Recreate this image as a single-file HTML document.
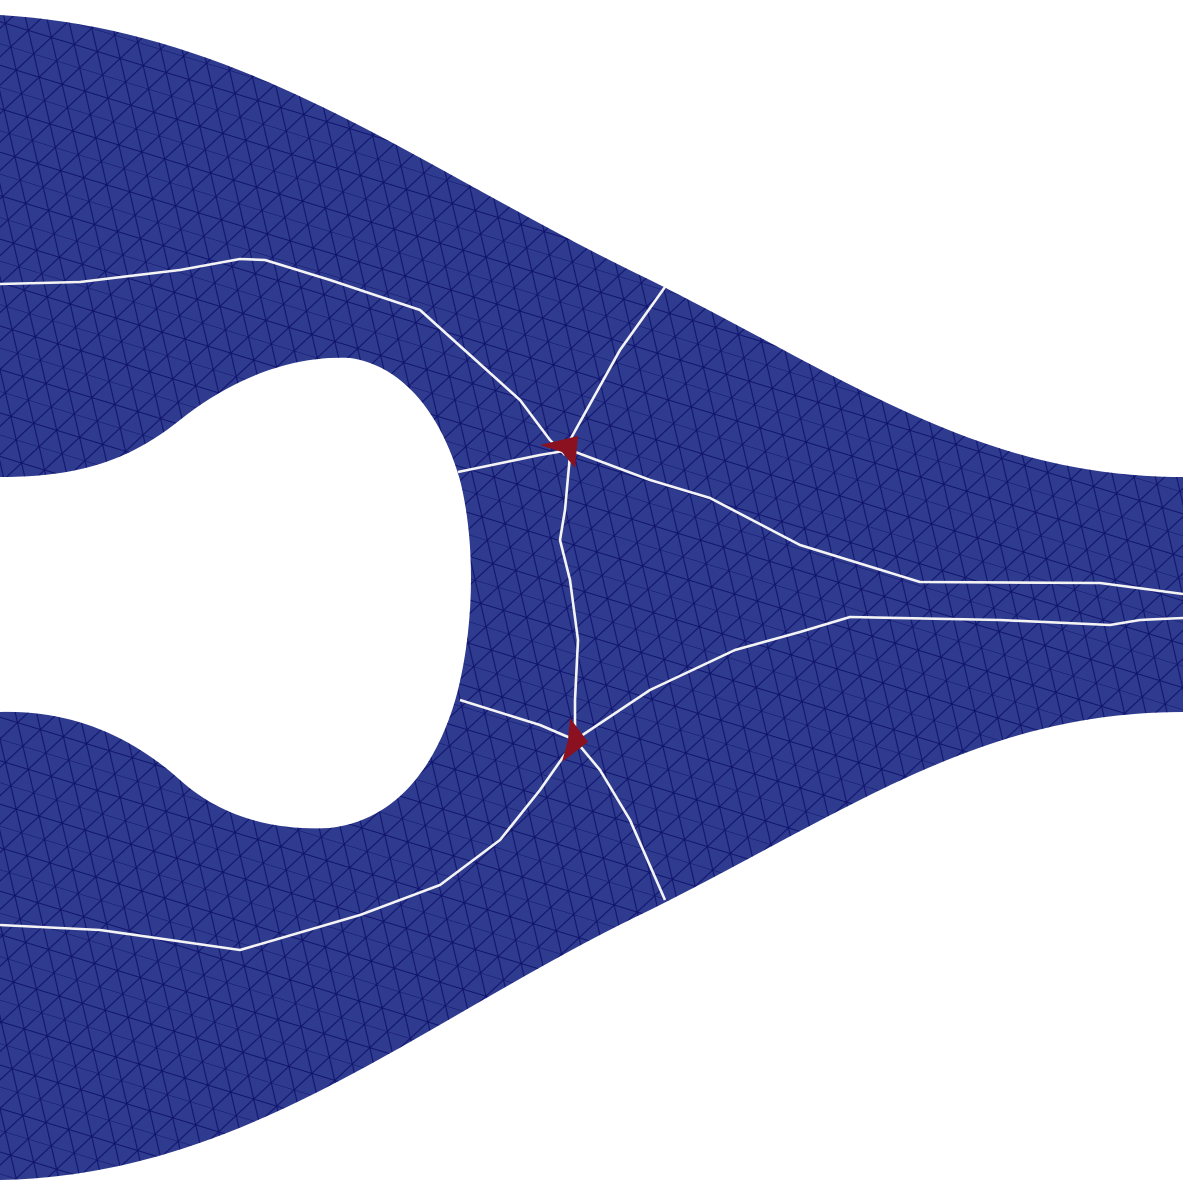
<!DOCTYPE html>
<html><head><meta charset="utf-8"><style>
html,body{margin:0;padding:0;background:#fff;}
svg{display:block;}
</style></head><body>
<svg width="1183" height="1189" viewBox="0 0 1183 1189">
<defs>
<pattern id="mesh" width="48" height="41.57" patternUnits="userSpaceOnUse" patternTransform="rotate(17)">
<path d="M0 0 L48 0 M0 20.78 L48 20.78 M0 0 L24 41.57 M24 0 L48 41.57 M-24 0 L0 41.57 M48 0 L24 41.57 M24 0 L0 41.57 M72 0 L48 41.57" stroke="#10146e" stroke-width="1.1" fill="none"/>
</pattern>
<clipPath id="shapeClip"><path d="M0 15 C250 30 420 170 650 280 C850 380 980 477 1183 477 L1183 712 C980 712 850 810 650 910 C420 1020 250 1175 0 1180 L0 712 C70 710 130 735 180 780 C230 825 290 830 330 828 C400 820 440 760 458 690 C475 620 475 540 460 480 C440 410 400 365 350 358 C290 355 230 380 180 420 C130 460 80 477 0 477 Z"/></clipPath>
</defs>
<g>
<path d="M0 15 C250 30 420 170 650 280 C850 380 980 477 1183 477 L1183 712 C980 712 850 810 650 910 C420 1020 250 1175 0 1180 L0 712 C70 710 130 735 180 780 C230 825 290 830 330 828 C400 820 440 760 458 690 C475 620 475 540 460 480 C440 410 400 365 350 358 C290 355 230 380 180 420 C130 460 80 477 0 477 Z" fill="#2f3b8e"/>
<rect x="0" y="0" width="1183" height="1189" fill="url(#mesh)" clip-path="url(#shapeClip)"/>
</g>
<g fill="none" stroke="#f4f4f4" stroke-width="2.6" stroke-linejoin="round">
<polyline points="0,284 80,282 180,270 240,259 265,260 330,280 420,310 470,355 520,400 550,440 565,455"/>
<polyline points="665,287 620,350 570,440"/>
<polyline points="458,472 540,455 570,450"/>
<polyline points="570,450 650,480 710,498 800,545 920,582 1100,583 1183,594"/>
<polyline points="570,455 565,510 560,540 570,580 578,640 575,700 575,740"/>
<polyline points="1183,618 1140,620 1110,625 1000,620 850,617 800,632 735,650 650,690 575,740"/>
<polyline points="460,700 540,725 575,740"/>
<polyline points="575,740 600,770 630,820 665,900"/>
<polyline points="575,740 540,790 500,840 440,885 360,915 240,950 100,930 0,925"/>
</g>
<g fill="#8b1020">
<polygon points="540,445 578,436 575,468 562,452"/>
<polygon points="570,718 588,742 562,762 568,740"/>
</g>
</svg>
</body></html>
